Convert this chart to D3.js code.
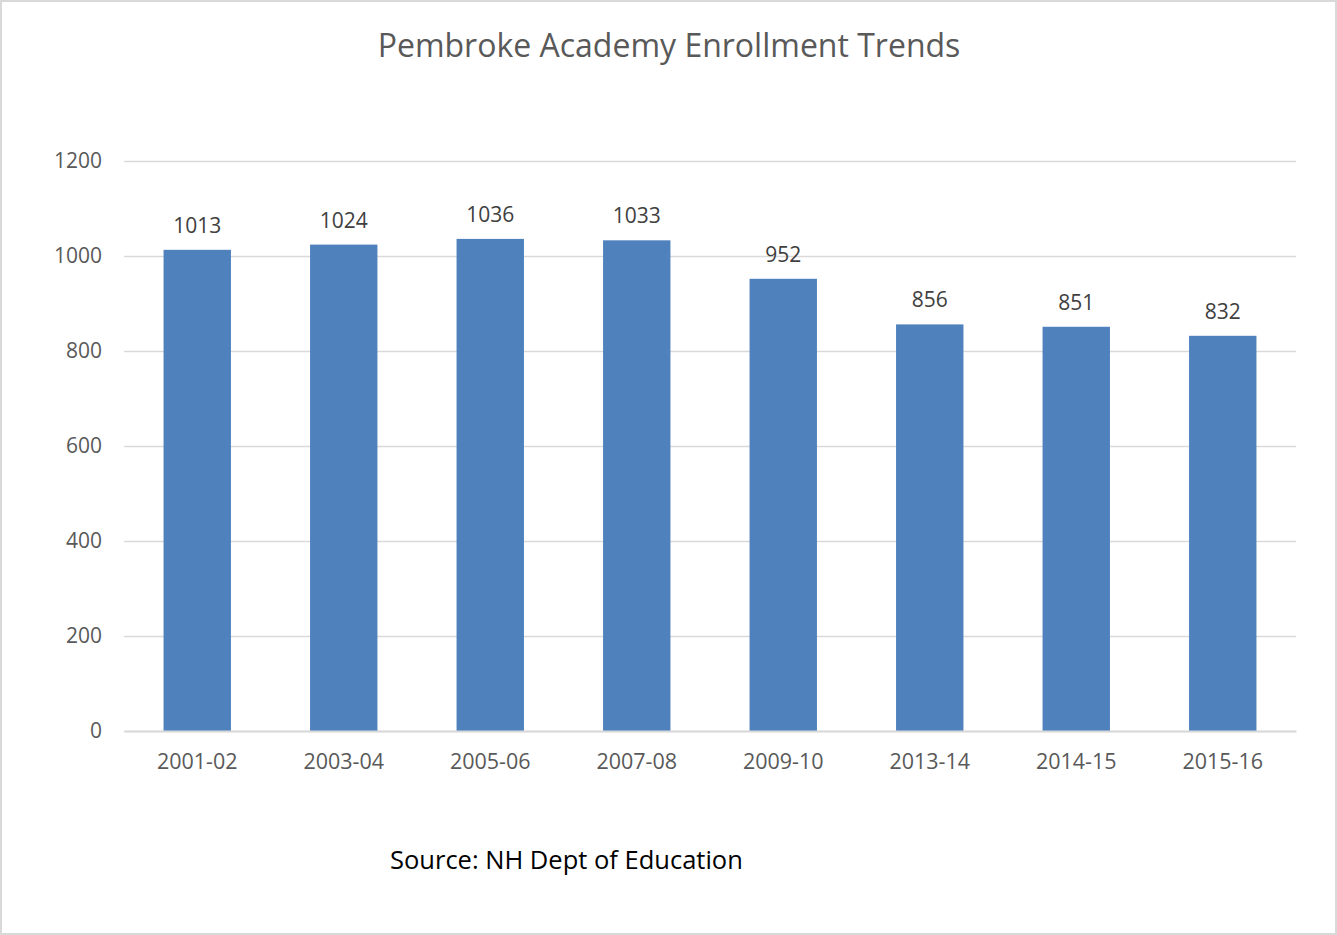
<!DOCTYPE html>
<html><head><meta charset="utf-8">
<script src="https://cdn.jsdelivr.net/npm/d3@7"></script>
<style>
html,body{margin:0;padding:0;background:#fff;}
svg{display:block;}
</style></head>
<body>
<svg id="chart" width="1337" height="935"></svg>
<script>
const categories = ["2001-02","2003-04","2005-06","2007-08","2009-10","2013-14","2014-15","2015-16"];
const enrollment = [1013,1024,1036,1033,952,856,851,832];
const yTicks = [0,200,400,600,800,1000,1200];
const titleText = "Pembroke Academy Enrollment Trends";
const sourceText = "Source: NH Dept of Education";

const svg = d3.select("#chart");
const W = 1337, H = 935;
const font = "'Open Sans', 'Noto Sans', sans-serif";

svg.append("rect").attr("x",1).attr("y",1).attr("width",W-2).attr("height",H-2)
  .attr("fill","#fff").attr("stroke","#d9d9d9").attr("stroke-width",2);

const m = {left:124, right:1296, top:161, bottom:731};
const x = d3.scaleBand().domain(categories).range([m.left,m.right]).paddingInner(0.54).paddingOuter(0.27);
const y = d3.scaleLinear().domain([0,1200]).range([m.bottom,m.top]);

const yAxis = d3.axisLeft(y).tickValues(yTicks).tickFormat(d3.format("d")).tickSize(-(m.right-m.left)).tickPadding(22);
const gy = svg.append("g").attr("transform",`translate(${m.left},0)`).call(yAxis);
gy.select(".domain").remove();
gy.selectAll(".tick line").attr("stroke","#d9d9d9").attr("stroke-width",1.5);
gy.selectAll(".tick text").attr("fill","#595959").style("font-family",font).style("font-size","21px");

svg.append("g").selectAll("rect.bar").data(enrollment).join("rect")
  .attr("class","bar")
  .attr("x",(d,i)=>x(categories[i]))
  .attr("width",x.bandwidth())
  .attr("y",d=>y(d))
  .attr("height",d=>y(0)-y(d))
  .attr("fill","#4f81bd");

const xAxis = d3.axisBottom(x).tickSize(0).tickPadding(23);
const gx = svg.append("g").attr("transform",`translate(0,${m.bottom})`).call(xAxis);
gx.select(".domain").attr("stroke","#d9d9d9").attr("stroke-width",2);
gx.selectAll(".tick text").attr("fill","#595959").style("font-family",font).style("font-size","21.5px");

svg.append("g").selectAll("text.lbl").data(enrollment).join("text")
  .attr("class","lbl")
  .attr("x",(d,i)=>x(categories[i])+x.bandwidth()/2)
  .attr("y",d=>y(d)-17)
  .attr("text-anchor","middle")
  .attr("fill","#404040")
  .style("font-family",font).style("font-size","21px")
  .text(d=>d);

svg.append("text").attr("x",669).attr("y",57).attr("text-anchor","middle")
  .attr("fill","#595959").style("font-family",font).style("font-size","32px").text(titleText);

svg.append("text").attr("x",390).attr("y",869)
  .attr("fill","#000").style("font-family",font).style("font-size","25.5px").text(sourceText);
</script>
</body></html>
